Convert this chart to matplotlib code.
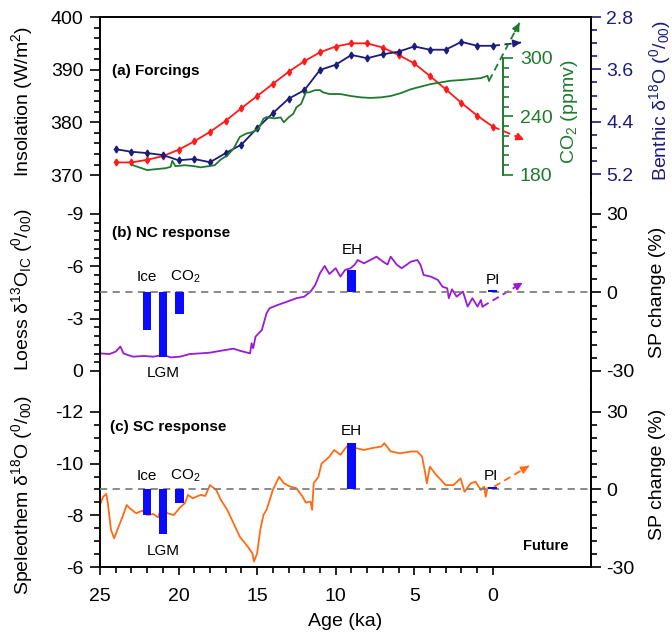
import numpy as np
import matplotlib
matplotlib.use('Agg')
import matplotlib.pyplot as plt

plt.rcParams['font.family'] = ['Liberation Sans', 'DejaVu Sans']
plt.rcParams['mathtext.fontset'] = 'custom'
plt.rcParams['mathtext.rm'] = 'Liberation Sans'
plt.rcParams['mathtext.it'] = 'Liberation Sans:italic'
plt.rcParams['mathtext.bf'] = 'Liberation Sans:bold'
plt.rcParams['axes.unicode_minus'] = False

# ---- panel (a) forcings ----
age_1ka = [24, 23, 22, 21, 20, 19, 18, 17, 16, 15, 14, 13, 12, 11, 10, 9, 8, 7, 6, 5, 4, 3, 2, 1, 0]
insolation = [372.4, 372.4, 372.9, 373.6, 374.8, 376.4, 378.2, 380.3, 382.7, 385.0, 387.3, 389.6,
              391.6, 393.3, 394.4, 395.0, 395.0, 394.2, 392.8, 391.2, 388.8, 386.3, 383.7, 381.3, 379.2]
benthic = [4.82, 4.86, 4.88, 4.91, 4.99, 4.97, 5.02, 4.88, 4.75, 4.50, 4.27, 4.05, 3.92, 3.61,
           3.53, 3.38, 3.43, 3.37, 3.33, 3.25, 3.30, 3.30, 3.18, 3.24, 3.24]
co2_age = [22.9, 22.0, 21.4, 20.8, 20.5, 20.4, 20.2, 19.6, 19.0, 18.6, 18.1, 17.7, 17.3, 16.9, 16.5,
           16.1, 15.7, 15.3, 14.9, 14.6, 14.4, 13.9, 13.5, 13.3, 13.0, 12.7, 12.5, 12.2, 11.9, 11.7,
           11.3, 11.0, 10.8, 10.4, 9.7, 9.05, 8.4, 7.8, 7.1, 6.5, 5.9, 5.2, 4.6, 3.95, 3.3, 2.7,
           2.05, 1.4, 0.76, 0.34, 0.24]
co2 = [190, 185, 186, 187, 188.4, 194.5, 189, 190, 189, 187.8, 189, 190, 196, 200, 207,
       219, 222.4, 224, 227.5, 237.6, 239.3, 238, 239, 234, 239, 242.7, 249.4, 252.9, 264.7, 264.7,
       267, 267, 264.7, 263, 263, 261, 259.6, 259, 259.6, 261, 263.7, 268, 270.5, 273.2, 275, 276.6,
       277.3, 278.3, 279.3, 281.7, 276.6]

# ---- panel (b) NC response ----
loess_age = [25.0, 24.4, 24.0, 23.7, 23.5, 22.9, 22.2, 21.6, 21.0, 20.5, 19.9, 19.3, 18.6, 18.0,
             17.3, 16.5, 16.1, 15.45, 15.35, 15.25, 15.1, 14.7, 14.4, 14.2, 13.7, 13.1, 12.5, 12.0,
             11.6, 11.3, 11.0, 10.7, 10.4, 10.0, 9.7, 9.4, 9.05, 8.8, 8.6, 8.2, 7.8, 7.4, 7.0, 6.7,
             6.5, 6.1, 5.8, 5.2, 4.8, 4.6, 4.4, 3.95, 3.5, 3.2, 2.9, 2.8, 2.6, 2.3, 1.9, 1.6, 1.3,
             0.97, 0.76, 0.66]
loess = [-1.01, -0.97, -1.11, -1.40, -1.00, -0.82, -0.86, -0.82, -0.92, -0.78, -0.82, -0.97, -1.01,
         -1.05, -1.16, -1.28, -1.16, -1.01, -1.59, -1.30, -1.97, -2.35, -3.31, -3.60, -3.78, -3.97,
         -4.17, -4.26, -4.55, -4.93, -5.60, -6.02, -5.56, -5.89, -5.41, -5.79, -5.89, -6.08, -6.36,
         -6.17, -6.36, -6.55, -6.27, -6.10, -6.55, -6.08, -5.89, -6.27, -6.36, -6.08, -5.50, -5.41,
         -5.22, -4.83, -4.74, -4.17, -4.68, -4.26, -4.55, -3.69, -4.17, -3.69, -4.07, -3.69]

# ---- panel (c) SC response ----
speleo_age = [25.0, 24.8, 24.6, 24.5, 24.3, 24.1, 23.9, 23.6, 23.3, 23.1, 22.7, 22.3, 22.0, 21.6,
              21.3, 21.1, 20.7, 20.3, 19.9, 19.6, 19.4, 19.1, 18.6, 18.3, 18.0, 17.6, 17.3, 16.9,
              16.5, 16.1, 15.6, 15.3, 15.2, 15.0, 14.8, 14.6, 14.4, 14.2, 14.0, 13.6, 13.3, 12.9,
              12.5, 12.1, 11.9, 11.6, 11.5, 11.4, 11.1, 10.9, 10.4, 10.1, 9.7, 9.3, 8.7, 8.2, 7.7,
              7.1, 6.9, 6.5, 5.9, 5.2, 4.8, 4.5, 4.3, 4.2, 4.0, 3.6, 3.3, 3.0, 2.5, 2.05, 1.8, 1.4,
              1.1, 0.76, 0.55, 0.45, 0.34]
speleo = [-8.40, -8.72, -8.83, -8.47, -7.43, -7.11, -7.43, -7.89, -8.40, -8.27, -8.08, -8.18, -8.01,
          -8.05, -7.92, -8.31, -8.08, -8.01, -8.31, -8.47, -8.79, -8.66, -8.79, -8.75, -9.17, -8.98,
          -8.59, -8.21, -7.69, -7.17, -6.79, -6.53, -6.21, -6.53, -7.44, -8.01, -8.21, -8.59, -8.98,
          -9.49, -9.24, -9.11, -9.05, -8.72, -8.49, -8.53, -8.21, -9.24, -9.49, -10.00, -10.27,
          -10.53, -10.34, -10.66, -10.60, -10.53, -10.60, -10.66, -10.79, -10.47, -10.40, -10.47,
          -10.47, -10.27, -9.63, -9.24, -9.88, -9.56, -9.37, -9.17, -9.17, -9.43, -8.91, -9.24,
          -9.30, -8.98, -9.11, -8.72, -9.05]

# model experiments (SP change, %)
exp_names = ['Ice', 'LGM', 'CO$_2$', 'EH', 'PI']
exp_age = [22.0, 21.0, 19.95, 9.0, 0.0]
sp_nc = [-14.3, -24.5, -8.2, 8.6, 1.0]
sp_sc = [-9.9, -17.2, -5.3, 18.1, 1.0]

# future arrows: (age0, val0, age1, val1)
arr_ins = (0.0, 379.2, -2.0, 376.7)
arr_ben = (0.0, 3.24, -1.8, 3.19)
arr_co2 = (0.24, 276.6, -1.7, 336.0)
arr_nc = (0.66, -3.69, -1.9, -5.06)
arr_sc = (-0.08, -9.11, -2.3, -9.91)

RED = '#ff1a1a'
NAVY = '#1c1c7a'
GREEN = '#1f7a2e'
PURPLE = '#9a1ad6'
ORANGE = '#ff6a13'
BLUE = '#0a0aff'
FS = 14

fig = plt.figure(figsize=(6.72, 6.33), dpi=100)


def box(top, bot):
    return [100 / 672, 1 - bot / 633, 491 / 672, (bot - top) / 633]


ax_a = fig.add_axes(box(17, 193))
ax_b = fig.add_axes(box(193, 390))
ax_c = fig.add_axes(box(390, 567))
ax_a2 = ax_a.twinx()
ax_a3 = ax_a.twinx()
ax_b2 = ax_b.twinx()
ax_c2 = ax_c.twinx()


def style(ax):
    ax.set_xlim(25, -6.25)
    ax.tick_params(axis='both', which='major', direction='out', length=7, width=1.2,
                   labelsize=FS)
    ax.tick_params(axis='both', which='minor', direction='out', length=4, width=1.2)
    ax.tick_params(axis='y', which='major', pad=5)
    ax.tick_params(axis='x', which='major', length=6, pad=9)
    for s in ax.spines.values():
        s.set_linewidth(1.4)
    ax.patch.set_visible(False)


for ax in [ax_a, ax_b, ax_c, ax_a2, ax_a3, ax_b2, ax_c2]:
    style(ax)
    ax.spines['right'].set_visible(False)
for ax in [ax_a2, ax_a3, ax_b2, ax_c2]:
    ax.spines['left'].set_visible(False)
    ax.spines['top'].set_visible(False)
    ax.spines['bottom'].set_visible(False)
    ax.spines['right'].set_visible(True)
    ax.tick_params(axis='y', which='major', pad=4)
ax_a.spines['bottom'].set_visible(False)
ax_b.spines['top'].set_visible(False)
ax_b.spines['bottom'].set_visible(False)
ax_c.spines['top'].set_visible(False)
for ax in [ax_a, ax_b]:
    ax.tick_params(axis='x', which='both', bottom=False, labelbottom=False)
for ax in [ax_a2, ax_a3, ax_b2, ax_c2]:
    ax.tick_params(axis='x', which='both', bottom=False, top=False, labelbottom=False)

ax_c.set_xticks([25, 20, 15, 10, 5, 0])
ax_c.set_xticks(list(range(0, 26)), minor=True)

# ---- (a) ----
ax_a.set_ylim(366.6, 400)
ax_a.set_yticks([370, 380, 390, 400])
ax_a.set_yticks(np.arange(370, 401, 2), minor=True)
ax_a.plot(age_1ka, insolation, color=RED, lw=1.3, marker='d', ms=3.5, zorder=4)

ax_a2.set_ylim(5.49, 2.8)
ax_a2.set_yticks([2.8, 3.6, 4.4, 5.2])
ax_a2.set_yticklabels(['2.8', '3.6', '4.4', '5.2'])
ax_a2.set_yticks(np.arange(2.8, 5.21, 0.2), minor=True)
ax_a2.tick_params(axis='y', which='both', colors=NAVY)
ax_a2.spines['right'].set_color('black')
ax_a2.plot(age_1ka, benthic, color=NAVY, lw=1.3, marker='d', ms=3.5, zorder=4)

ax_a3.set_ylim(161.5, 342)
ax_a3.spines['right'].set_position(('axes', 0.821))
ax_a3.spines['right'].set_bounds(180, 300)
ax_a3.spines['right'].set_color(GREEN)
ax_a3.set_yticks([180, 240, 300])
ax_a3.set_yticks(np.arange(180, 301, 10), minor=True)
ax_a3.tick_params(axis='y', which='both', colors=GREEN)
ax_a3.tick_params(axis='y', which='major', pad=5)
ax_a3.plot(co2_age, co2, color=GREEN, lw=1.3)


def arrow(ax, a, color):
    x0, y0, x1, y1 = a
    ax.plot([x0, x1], [y0, y1], ls='--', color=color, lw=1.3, dashes=(4, 2.5))
    ax.annotate('', xy=(x1, y1), xytext=(x0 + 0.85 * (x1 - x0), y0 + 0.85 * (y1 - y0)),
                arrowprops=dict(arrowstyle='-|>', color=color, lw=1.3, mutation_scale=11,
                                shrinkA=0, shrinkB=0))


arrow(ax_a, arr_ins, RED)
arrow(ax_a2, arr_ben, NAVY)
arrow(ax_a3, arr_co2, GREEN)
ax_a.text(0.024, 0.693, '(a) Forcings', transform=ax_a.transAxes, fontsize=11,
          fontweight='bold', va='center')

# ---- (b) ----
ax_b.set_ylim(1.09, -10.2)
ax_b.set_yticks([-9, -6, -3, 0])
ax_b.set_yticks(np.arange(-9, 0.01, 0.5), minor=True)
ax_b.plot(loess_age, loess, color=PURPLE, lw=1.3)
arrow(ax_b, arr_nc, PURPLE)

ax_b2.set_ylim(-37.27, 38.0)
ax_b2.set_yticks([-30, 0, 30])
ax_b2.set_yticks(np.arange(-30, 31, 5), minor=True)
ax_b2.axhline(0, color='gray', ls='--', lw=1.3, dashes=(4, 3), zorder=1)
ax_b2.bar(exp_age, sp_nc, width=0.55, color=BLUE, zorder=3)
ax_b.text(0.024, 0.797, '(b) NC response', transform=ax_b.transAxes, fontsize=11,
          fontweight='bold', va='center')

# ---- (c) ----
ax_c.set_ylim(-6, -12.85)
ax_c.set_yticks([-12, -10, -8, -6])
ax_c.set_yticks(np.arange(-12, -5.99, 0.5), minor=True)
ax_c.plot(speleo_age, speleo, color=ORANGE, lw=1.3)
arrow(ax_c, arr_sc, ORANGE)

ax_c2.set_ylim(-30, 38.5)
ax_c2.set_yticks([-30, 0, 30])
ax_c2.set_yticks(np.arange(-30, 31, 5), minor=True)
ax_c2.axhline(0, color='gray', ls='--', lw=1.3, dashes=(4, 3), zorder=1)
ax_c2.bar(exp_age, sp_sc, width=0.55, color=BLUE, zorder=3)
ax_c.text(0.020, 0.791, '(c) SC response', transform=ax_c.transAxes, fontsize=11,
          fontweight='bold', va='center')
ax_c2.text(-3.4, -21.9, 'Future', fontsize=10.5, fontweight='bold', ha='center', va='center')

# experiment labels
lab_b = {'Ice': (22.0, 5.9), 'CO$_2$': (19.6, 5.9), 'LGM': (21.0, -30.7), 'EH': (8.93, 16.3),
         'PI': (0.0, 4.8)}
lab_c = {'Ice': (22.0, 5.2), 'CO$_2$': (19.6, 5.2), 'LGM': (21.0, -23.8), 'EH': (9.0, 22.7),
         'PI': (0.1, 5.2)}
for name in exp_names:
    ax_b2.text(*lab_b[name], name, fontsize=11, ha='center', va='center')
    ax_c2.text(*lab_c[name], name, fontsize=11, ha='center', va='center')

# axis titles
fig.text(22 / 672, 1 - 101 / 633, 'Insolation (W/m$^2$)', rotation=90, ha='center',
         va='center', fontsize=FS)
fig.text(22 / 672, 1 - 290 / 633, r'Loess δ$^{13}$O$_{\rm IC}$ ($^0$/$_{00}$)', rotation=90,
         ha='center', va='center', fontsize=FS)
fig.text(22 / 672, 1 - 495 / 633, 'Speleothem δ$^{18}$O ($^0$/$_{00}$)', rotation=90,
         ha='center', va='center', fontsize=FS)
fig.text(660 / 672, 1 - 100 / 633, 'Benthic δ$^{18}$O ($^0$/$_{00}$)', rotation=90,
         ha='center', va='center', fontsize=FS, color=NAVY)
fig.text(570 / 672, 1 - 112 / 633, 'CO$_2$ (ppmv)', rotation=90, ha='center', va='center',
         fontsize=FS, color=GREEN)
fig.text(658 / 672, 1 - 292 / 633, 'SP change (%)', rotation=90, ha='center', va='center',
         fontsize=FS)
fig.text(658 / 672, 1 - 474 / 633, 'SP change (%)', rotation=90, ha='center', va='center',
         fontsize=FS)
fig.text(345 / 672, 1 - 622 / 633, 'Age (ka)', ha='center', va='center', fontsize=FS)

fig.savefig('out.png', dpi=100)
